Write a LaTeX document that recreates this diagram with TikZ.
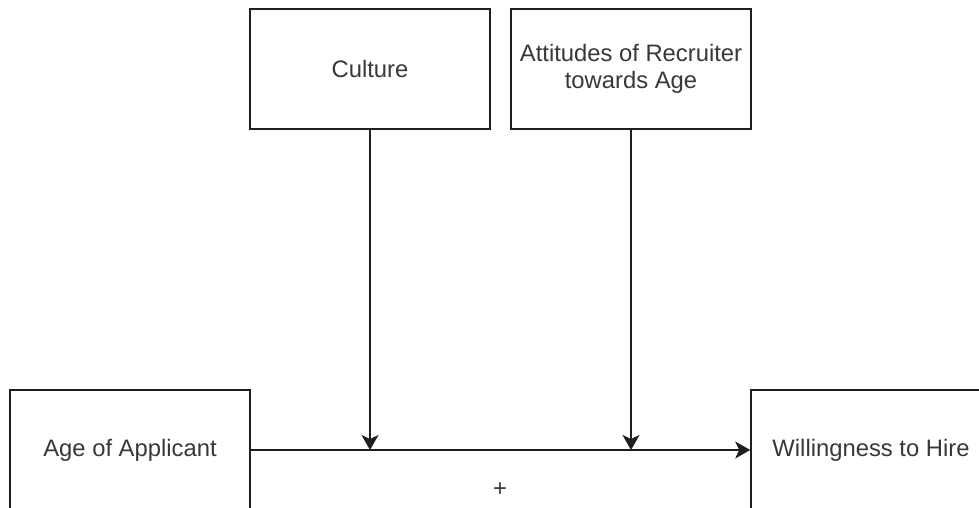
\documentclass[tikz,border=0pt]{standalone}
\usepackage{fontspec}
\setmainfont{Liberation Sans}
\usetikzlibrary{arrows.meta}
\begin{document}
\begin{tikzpicture}[x=1pt,y=-1pt,
  box/.style={draw=black!88, line width=1.6pt, minimum width=240pt, minimum height=120pt, inner sep=0pt, align=center, text=black!78, font=\fontsize{23.8}{27.5}\selectfont},
  conn/.style={draw=black!88, line width=1.6pt},
  arr/.style={conn, -{Stealth[length=15pt,width=17pt,inset=4pt]}},
  lbl/.style={text=black!78, font=\fontsize{23.8}{27.5}\selectfont, inner sep=0pt}]
\useasboundingbox[fill=white] (0,0) rectangle (979,508);
\node[box] (culture) at (370,69) {Culture};
\node[box] (att) at (631,69) {Attitudes of Recruiter\\towards Age};
\node[box] (age) at (130,450) {Age of Applicant};
\node[box] (will) at (871,450) {Willingness to Hire};
\coordinate (j1) at (370,450);
\coordinate (j2) at (631,450);
\draw[arr] (age.east) -- (will.west);
\draw[arr] (culture.south) -- (j1);
\draw[arr] (att.south) -- (j2);
\node[lbl] (plus) at (500,490) {+};
\end{tikzpicture}
\end{document}
